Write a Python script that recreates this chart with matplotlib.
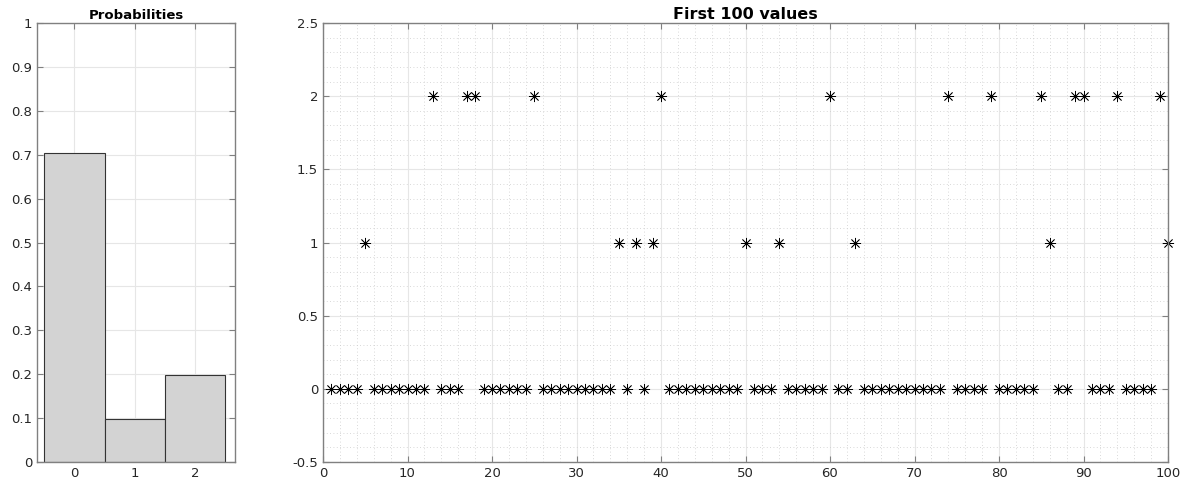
import matplotlib
matplotlib.use("Agg")
import matplotlib.pyplot as plt
import numpy as np
from matplotlib.ticker import MultipleLocator, FuncFormatter

# Data
categories = [0, 1, 2]
probabilities = [0.705, 0.097, 0.198]
values = [0, 0, 0, 0, 1, 0, 0, 0, 0, 0,
          0, 0, 2, 0, 0, 0, 2, 2, 0, 0,
          0, 0, 0, 0, 2, 0, 0, 0, 0, 0,
          0, 0, 0, 0, 1, 0, 1, 0, 1, 2,
          0, 0, 0, 0, 0, 0, 0, 0, 0, 1,
          0, 0, 0, 1, 0, 0, 0, 0, 0, 2,
          0, 0, 1, 0, 0, 0, 0, 0, 0, 0,
          0, 0, 0, 2, 0, 0, 0, 0, 2, 0,
          0, 0, 0, 0, 2, 1, 0, 0, 2, 2,
          0, 0, 0, 2, 0, 0, 0, 0, 2, 1]
index = list(range(1, len(values) + 1))
left_yticks = [0, 0.1, 0.2, 0.3, 0.4, 0.5, 0.6, 0.7, 0.8, 0.9, 1.0]
right_yticks = [-0.5, 0, 0.5, 1, 1.5, 2, 2.5]
right_xticks = [0, 10, 20, 30, 40, 50, 60, 70, 80, 90, 100]
left_title = "Probabilities"
right_title = "First 100 values"

plt.rcParams['font.family'] = ['DejaVu Sans']
W, H = 1193, 488
fig = plt.figure(figsize=(W / 100, H / 100), dpi=100)

spine_col = '#808080'
text_col = '#262626'
fmt = FuncFormatter(lambda v, p: f'{v:g}')

def style(ax):
    for s in ax.spines.values():
        s.set_color(spine_col)
        s.set_linewidth(1.0)
    ax.tick_params(which='both', direction='in', top=True, right=True,
                   colors=spine_col, labelcolor=text_col, labelsize=9.5, length=4)
    ax.tick_params(which='minor', length=0)
    ax.grid(True, which='major', color='#e6e6e6', linewidth=0.8)
    ax.set_axisbelow(True)

ax1 = fig.add_axes([37 / W, 1 - 462 / H, (235 - 37) / W, (462 - 23) / H])
style(ax1)
ax1.bar(categories, probabilities, width=1.0, color='#d3d3d3', edgecolor='#333333', linewidth=0.8)
ax1.set_xlim(-0.62, 2.66)
ax1.set_ylim(0, 1)
ax1.set_xticks(categories)
ax1.set_yticks(left_yticks)
ax1.yaxis.set_major_formatter(fmt)
ax1.set_title(left_title, fontsize=9.5, fontweight='bold', color='#000000', pad=3)

ax2 = fig.add_axes([323 / W, 1 - 462 / H, (1168 - 323) / W, (462 - 23) / H])
style(ax2)
ax2.xaxis.set_minor_locator(MultipleLocator(2))
ax2.yaxis.set_minor_locator(MultipleLocator(0.1))
ax2.grid(True, which='minor', color='#cccccc', linewidth=0.6, linestyle=(0, (1, 3)))
ax2.plot(index, values, linestyle='none', marker=(8, 2, 0), markersize=8,
         markeredgecolor='black', markeredgewidth=0.55, color='black', clip_on=False)
ax2.set_xlim(0, 100)
ax2.set_ylim(-0.5, 2.5)
ax2.set_xticks(right_xticks)
ax2.set_yticks(right_yticks)
ax2.yaxis.set_major_formatter(fmt)
ax2.set_title(right_title, fontsize=11.5, fontweight='bold', color='#000000', pad=3)

fig.savefig('out.png', dpi=100)
